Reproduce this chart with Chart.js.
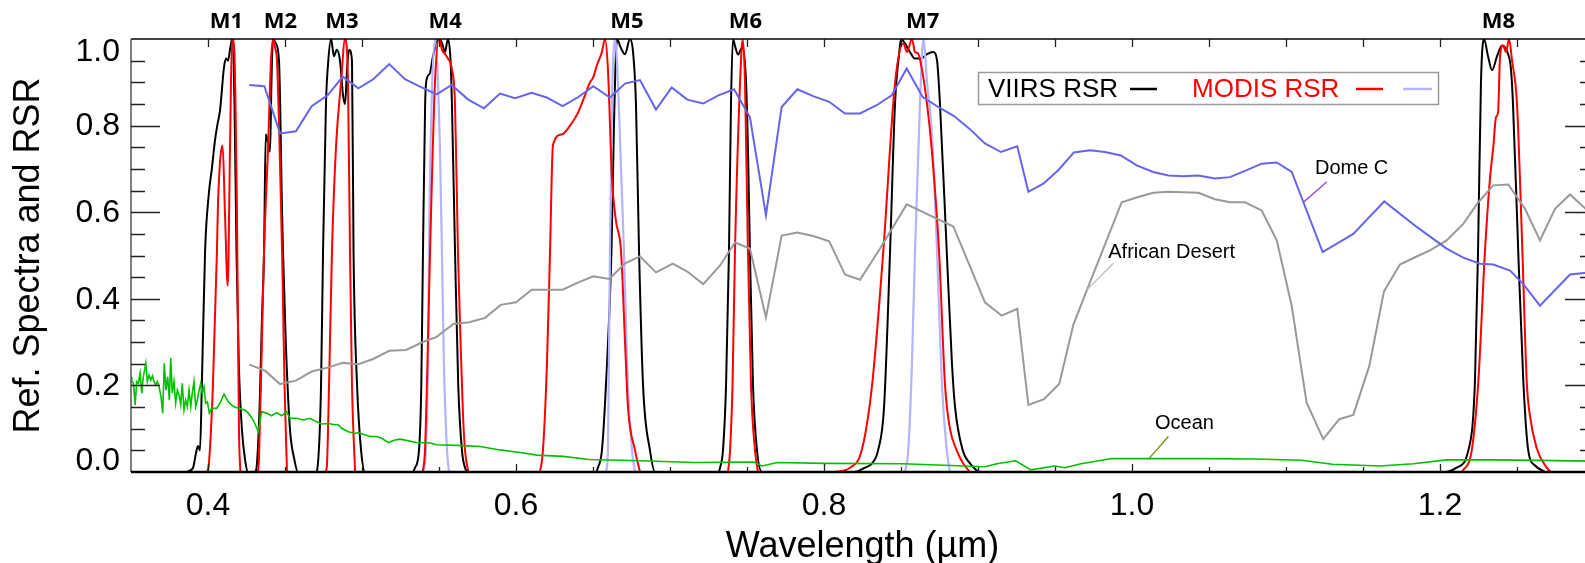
<!DOCTYPE html>
<html>
<head>
<meta charset="utf-8">
<title>Ref. Spectra and RSR</title>
<script src="https://cdn.jsdelivr.net/npm/chart.js@4.4.1/dist/chart.umd.min.js"></script>
<style>
  html, body { margin: 0; padding: 0; background: #fff; overflow: hidden; }
  #wrap { width: 1585px; height: 563px; overflow: hidden; }
  canvas { display: block; }
</style>
</head>
<body>
<div id="wrap"><canvas id="RsrChart" width="1600" height="563"></canvas></div>
<script>
(function () {
  "use strict";

  // VIIRS relative spectral response, [wavelength um, RSR]
  const viirsM1 = [[0.386,0],[0.3903,0.01],[0.392,0.04],[0.3935,0.06],[0.3948,0.05],[0.396,0.2],[0.3981,0.51],[0.4006,0.645],[0.4025,0.7],[0.4045,0.765],[0.406,0.8],[0.4078,0.835],[0.4104,0.935],[0.4117,0.955],[0.413,0.95],[0.4145,0.98],[0.4156,1.0],[0.4172,0.85],[0.4185,0.51],[0.420,0.25],[0.422,0.1],[0.424,0.03],[0.426,0]];
  const viirsM2 = [[0.4305,0],[0.4318,0.02],[0.4335,0.15],[0.435,0.35],[0.4364,0.51],[0.4375,0.78],[0.439,0.76],[0.4403,0.74],[0.4412,0.9],[0.4422,1.0],[0.444,0.99],[0.4461,0.95],[0.4481,0.6],[0.4487,0.51],[0.4505,0.3],[0.4532,0.1],[0.456,0.03],[0.4584,0]];
  const viirsM3 = [[0.470,0],[0.4714,0.02],[0.4734,0.2],[0.4747,0.51],[0.4766,0.85],[0.4779,0.94],[0.4799,1.0],[0.4818,0.96],[0.4836,0.975],[0.4857,0.95],[0.4877,0.87],[0.489,0.85],[0.4903,0.93],[0.4916,0.975],[0.4935,0.95],[0.4945,0.51],[0.4968,0.2],[0.4994,0.05],[0.502,0]];
  const viirsM4 = [[0.533,0],[0.5344,0.01],[0.537,0.05],[0.5385,0.2],[0.5396,0.51],[0.541,0.85],[0.5422,0.91],[0.544,0.92],[0.5461,0.96],[0.55,1.0],[0.552,0.99],[0.5539,0.97],[0.5558,1.0],[0.5575,0.95],[0.5584,0.85],[0.5604,0.51],[0.5625,0.2],[0.5649,0.05],[0.5669,0.01],[0.569,0]];
  const viirsM5 = [[0.652,0],[0.6532,0.01],[0.6558,0.05],[0.6584,0.2],[0.662,0.51],[0.6636,0.8],[0.6656,1.0],[0.668,0.98],[0.6708,0.965],[0.674,1.0],[0.676,0.97],[0.6779,0.85],[0.6799,0.51],[0.6825,0.2],[0.687,0.05],[0.6903,0]];
  const viirsM6 = [[0.7315,0],[0.7325,0.01],[0.7344,0.05],[0.7364,0.2],[0.7383,0.51],[0.7396,0.85],[0.7409,1.0],[0.7425,0.98],[0.7442,0.964],[0.7468,0.98],[0.7494,0.9],[0.7506,0.75],[0.7519,0.51],[0.7539,0.2],[0.7565,0.05],[0.7597,0]];
  const viirsM7 = [[0.8195,0],[0.8266,0.01],[0.8312,0.02],[0.8351,0.05],[0.839,0.15],[0.8429,0.51],[0.8461,0.85],[0.8489,0.97],[0.85,1.0],[0.8525,0.99],[0.8558,0.97],[0.859,0.955],[0.863,0.955],[0.8669,0.965],[0.8708,0.97],[0.8734,0.95],[0.8753,0.85],[0.8797,0.51],[0.8831,0.25],[0.8851,0.15],[0.8901,0.05],[0.8948,0.02],[0.9019,0]];
  const viirsM8 = [[1.2032,0],[1.2108,0.01],[1.2184,0.05],[1.2227,0.21],[1.2247,0.51],[1.2266,0.9],[1.2286,1.0],[1.2312,0.96],[1.2338,0.928],[1.237,0.96],[1.2403,0.985],[1.2442,0.965],[1.2461,0.93],[1.2474,0.85],[1.2508,0.51],[1.2541,0.21],[1.2573,0.05],[1.2617,0.015],[1.2682,0]];

  // MODIS RSR (red)
  const modisB1 = [[0.3995,0],[0.4006,0.02],[0.4032,0.2],[0.4058,0.51],[0.4065,0.62],[0.4095,0.754],[0.411,0.6],[0.4128,0.43],[0.4143,0.75],[0.4156,1.0],[0.417,0.98],[0.4188,0.6],[0.4201,0.1],[0.421,0]];
  const modisB2 = [[0.4325,0],[0.4331,0.03],[0.435,0.3],[0.4364,0.51],[0.439,0.75],[0.4409,0.95],[0.4422,1.0],[0.4435,0.98],[0.4448,0.95],[0.4465,0.75],[0.4481,0.51],[0.4497,0.2],[0.4513,0]];
  const modisB3 = [[0.4765,0],[0.4773,0.02],[0.4786,0.2],[0.4805,0.51],[0.4831,0.75],[0.4864,0.9],[0.489,1.0],[0.4909,0.9],[0.4922,0.51],[0.4935,0.2],[0.4955,0]];
  const modisB4 = [[0.5395,0],[0.5409,0.05],[0.5425,0.25],[0.5442,0.51],[0.5474,0.9],[0.55,1.0],[0.552,0.975],[0.5539,0.965],[0.5558,0.955],[0.5584,0.93],[0.5604,0.85],[0.5623,0.51],[0.564,0.3],[0.5656,0.13],[0.5669,0.05],[0.569,0]];
  const modisB5 = [[0.6156,0],[0.6175,0.05],[0.6201,0.25],[0.6221,0.51],[0.624,0.755],[0.6299,0.78],[0.6351,0.8],[0.6403,0.83],[0.6448,0.87],[0.6481,0.9],[0.65,0.91],[0.6526,0.94],[0.6558,0.97],[0.6578,1.0],[0.6597,0.93],[0.6623,0.68],[0.6649,0.58],[0.6682,0.51],[0.6708,0.3],[0.6727,0.15],[0.6773,0.05],[0.6805,0]];
  const modisB6 = [[0.7377,0],[0.739,0.05],[0.7406,0.2],[0.7422,0.51],[0.7455,0.9],[0.7472,1.0],[0.7487,0.9],[0.7506,0.51],[0.7526,0.2],[0.7552,0.05],[0.7571,0]];
  const modisB7 = [[0.8071,0],[0.8169,0.01],[0.8245,0.05],[0.8312,0.2],[0.8385,0.51],[0.8461,0.897],[0.8515,0.99],[0.8539,0.97],[0.8571,1.0],[0.8591,0.97],[0.861,0.967],[0.8636,0.93],[0.8669,0.85],[0.8701,0.74],[0.8747,0.51],[0.8786,0.2],[0.8818,0.1],[0.8862,0.05],[0.8903,0.02],[0.8948,0]];
  const modisB8 = [[1.2143,0],[1.2206,0.05],[1.2249,0.21],[1.2292,0.51],[1.2325,0.68],[1.2346,0.75],[1.2364,0.82],[1.2377,0.83],[1.239,0.96],[1.2409,0.985],[1.2429,0.97],[1.2448,1.0],[1.2468,0.95],[1.25,0.85],[1.2535,0.51],[1.2563,0.21],[1.2584,0.13],[1.2628,0.055],[1.2693,0.01],[1.272,0]];

  // MODIS narrow bands (light blue)
  const modisN4 = [[0.540,0],[0.5415,0.05],[0.5429,0.25],[0.5435,0.51],[0.5452,0.85],[0.5474,1.0],[0.5494,0.9],[0.5506,0.75],[0.5519,0.51],[0.5532,0.25],[0.5552,0.05],[0.5565,0]];
  const modisN5 = [[0.6584,0],[0.6597,0.05],[0.661,0.51],[0.6623,0.85],[0.6643,1.0],[0.6662,0.9],[0.6682,0.7],[0.6701,0.51],[0.6727,0.2],[0.6753,0.05],[0.6773,0]];
  const modisN7 = [[0.8526,0],[0.8547,0.05],[0.8571,0.25],[0.8591,0.51],[0.8623,0.85],[0.8645,1.0],[0.8669,0.9],[0.8701,0.78],[0.8734,0.51],[0.8766,0.2],[0.8797,0.05],[0.8818,0]];

  // reference spectra
  const domeC = [[0.4268,0.894],[0.4366,0.891],[0.4468,0.782],[0.4571,0.787],[0.4673,0.845],[0.4777,0.870],[0.4875,0.913],[0.4976,0.886],[0.5073,0.907],[0.5177,0.942],[0.5279,0.907],[0.5377,0.890],[0.5485,0.872],[0.5582,0.894],[0.5690,0.860],[0.5792,0.840],[0.5896,0.874],[0.5994,0.863],[0.6102,0.876],[0.6199,0.865],[0.6303,0.845],[0.6405,0.866],[0.6502,0.891],[0.6610,0.865],[0.6708,0.897],[0.6805,0.905],[0.6909,0.837],[0.7011,0.888],[0.7112,0.860],[0.7216,0.851],[0.7314,0.870],[0.7416,0.884],[0.7519,0.819],[0.7623,0.593],[0.7725,0.843],[0.7827,0.884],[0.7930,0.868],[0.8034,0.855],[0.8136,0.828],[0.8234,0.828],[0.8342,0.847],[0.8440,0.870],[0.8537,0.932],[0.8641,0.866],[0.8742,0.843],[0.8844,0.822],[0.8944,0.793],[0.9045,0.759],[0.9149,0.739],[0.9255,0.752],[0.9327,0.647],[0.9424,0.666],[0.9521,0.697],[0.9623,0.738],[0.9727,0.743],[0.9825,0.739],[0.9927,0.731],[1.0031,0.708],[1.0138,0.693],[1.0236,0.685],[1.0333,0.683],[1.0431,0.685],[1.0539,0.678],[1.0636,0.681],[1.0745,0.697],[1.0842,0.712],[1.0940,0.715],[1.1037,0.693],[1.1238,0.508],[1.1437,0.550],[1.1638,0.625],[1.1849,0.566],[1.2043,0.516],[1.2151,0.495],[1.2260,0.481],[1.2346,0.479],[1.2455,0.465],[1.2541,0.434],[1.2649,0.384],[1.2844,0.456],[1.3000,0.462]];
  const africanDesert = [[0.4268,0.248],[0.4370,0.234],[0.4468,0.203],[0.4571,0.211],[0.4673,0.232],[0.4777,0.241],[0.4875,0.252],[0.4976,0.249],[0.5073,0.261],[0.5177,0.280],[0.5286,0.282],[0.5388,0.299],[0.5485,0.312],[0.5593,0.342],[0.5697,0.346],[0.5799,0.356],[0.5901,0.386],[0.6000,0.392],[0.6102,0.421],[0.6199,0.421],[0.6303,0.421],[0.6405,0.438],[0.6502,0.452],[0.6606,0.446],[0.6708,0.482],[0.6805,0.498],[0.6909,0.461],[0.7018,0.481],[0.7112,0.463],[0.7216,0.434],[0.7325,0.477],[0.7422,0.530],[0.7519,0.516],[0.7623,0.357],[0.7725,0.546],[0.7827,0.553],[0.7930,0.545],[0.8034,0.533],[0.8136,0.456],[0.8234,0.444],[0.8364,0.516],[0.8537,0.618],[0.8840,0.567],[0.9045,0.392],[0.9154,0.361],[0.9255,0.377],[0.9327,0.155],[0.9429,0.168],[0.9528,0.204],[0.9619,0.340],[0.9710,0.423],[0.9792,0.496],[0.9933,0.623],[1.0040,0.635],[1.0138,0.645],[1.0236,0.647],[1.0431,0.645],[1.0539,0.630],[1.0636,0.623],[1.0734,0.623],[1.0842,0.604],[1.0940,0.535],[1.1037,0.384],[1.1134,0.160],[1.1242,0.076],[1.1346,0.122],[1.1437,0.132],[1.1541,0.245],[1.1636,0.417],[1.1740,0.479],[1.1838,0.496],[1.1935,0.512],[1.2043,0.535],[1.2151,0.573],[1.2249,0.623],[1.2346,0.662],[1.2443,0.664],[1.2552,0.608],[1.2649,0.535],[1.2747,0.608],[1.2844,0.641],[1.3000,0.590]];
  const ocean = [[0.3500,0.220],[0.3505,0.209],[0.3516,0.205],[0.3527,0.155],[0.3537,0.209],[0.3548,0.205],[0.3559,0.228],[0.3570,0.182],[0.3580,0.220],[0.3596,0.251],[0.3606,0.209],[0.3617,0.224],[0.3628,0.212],[0.3639,0.222],[0.3649,0.209],[0.3660,0.201],[0.3671,0.209],[0.3682,0.197],[0.3695,0.174],[0.3706,0.136],[0.3716,0.251],[0.3727,0.189],[0.3738,0.220],[0.3749,0.166],[0.3758,0.263],[0.3768,0.182],[0.3779,0.209],[0.3790,0.159],[0.3801,0.189],[0.3812,0.178],[0.3823,0.155],[0.3833,0.205],[0.3844,0.143],[0.3855,0.166],[0.3866,0.151],[0.3877,0.189],[0.3888,0.151],[0.3898,0.182],[0.3909,0.209],[0.3920,0.151],[0.3931,0.166],[0.3942,0.189],[0.3953,0.205],[0.3963,0.182],[0.3974,0.197],[0.3985,0.159],[0.3996,0.162],[0.4009,0.136],[0.4024,0.147],[0.4056,0.147],[0.4078,0.159],[0.4104,0.180],[0.4132,0.162],[0.4165,0.151],[0.4197,0.147],[0.4240,0.143],[0.4262,0.136],[0.4294,0.120],[0.4327,0.093],[0.4348,0.139],[0.4381,0.136],[0.4413,0.130],[0.4446,0.137],[0.4478,0.130],[0.4511,0.139],[0.4532,0.124],[0.4575,0.124],[0.4619,0.120],[0.4662,0.124],[0.4695,0.118],[0.4738,0.111],[0.4781,0.112],[0.4825,0.109],[0.4846,0.109],[0.4868,0.101],[0.4911,0.093],[0.4954,0.089],[0.4976,0.091],[0.5009,0.087],[0.5052,0.082],[0.5095,0.082],[0.5128,0.078],[0.5171,0.068],[0.5214,0.074],[0.5247,0.076],[0.5355,0.068],[0.5442,0.067],[0.5485,0.063],[0.5658,0.061],[0.5766,0.059],[0.5896,0.051],[0.6026,0.045],[0.6136,0.039],[0.6305,0.036],[0.6474,0.029],[0.6815,0.026],[0.7155,0.022],[0.7545,0.023],[0.7597,0.014],[0.7698,0.022],[0.8004,0.020],[0.8513,0.019],[0.9045,0.012],[0.9123,0.019],[0.9244,0.026],[0.9344,0.005],[0.9498,0.014],[0.9565,0.010],[0.9669,0.019],[0.9870,0.031],[1.0442,0.031],[1.0800,0.030],[1.1100,0.027],[1.1300,0.018],[1.1610,0.014],[1.1827,0.019],[1.2043,0.028],[1.2368,0.028],[1.3000,0.025]];

  // band names and centres (um) shown above the frame
  const bandNames = ['M1','M2','M3','M4','M5','M6','M7','M8'];
  const bandCenters = [0.412, 0.447, 0.487, 0.554, 0.672, 0.749, 0.864, 1.238];

  // axis tick labels
  const xTickValues = [0.4, 0.6, 0.8, 1.0, 1.2];
  const xTickLabels = ['0.4', '0.6', '0.8', '1.0', '1.2'];
  const yTickValues = [0, 0.2, 0.4, 0.6, 0.8, 1.0];
  const yTickLabels = ['0.0', '0.2', '0.4', '0.6', '0.8', '1.0'];

  // curve labels: [text, label x, label y, leader from x, y, leader to x, y, leader colour]
  const curveNotes = [
    ['Dome C', 1.1188, 0.701, 1.1265, 0.670, 1.1117, 0.624, '#8a2be2'],
    ['African Desert', 0.9846, 0.508, 0.9879, 0.482, 0.9706, 0.420, '#bbbbbb'],
    ['Ocean', 1.0149, 0.113, 1.0236, 0.082, 1.0110, 0.031, '#808000']
  ];

  const FONT = "'Liberation Sans', Arial, sans-serif";

  function pts(a) { return a.map(function (p) { return { x: p[0], y: p[1] }; }); }
  function joined(bands, gaps) {
    let out = [];
    bands.forEach(function (b, i) {
      if (i > 0 && gaps) out.push({ x: (bands[i - 1][bands[i - 1].length - 1][0] + b[0][0]) / 2, y: null });
      out = out.concat(pts(b));
    });
    return out;
  }

  const viirsData = joined([viirsM1, viirsM2, viirsM3, viirsM4, viirsM5, viirsM6, viirsM7, viirsM8], false);
  const modisData = joined([modisB1, modisB2, modisB3, modisB4, modisB5, modisB6, modisB7, modisB8], true);
  const modisNarrow = joined([modisN4, modisN5, modisN7], true);

  const decor = {
    id: 'decor',
    afterDatasetsDraw(chart) {
      const ctx = chart.ctx, a = chart.chartArea;
      const xs = chart.scales.x, ys = chart.scales.y;
      ctx.save();

      // frame
      ctx.lineCap = 'butt';
      ctx.strokeStyle = '#000';
      ctx.lineWidth = 1.5;
      ctx.beginPath();
      ctx.moveTo(a.left, a.top); ctx.lineTo(a.right, a.top);
      ctx.stroke();
      ctx.strokeStyle = '#555';
      ctx.beginPath();
      ctx.moveTo(a.left, a.top); ctx.lineTo(a.left, a.bottom);
      ctx.moveTo(a.right, a.top); ctx.lineTo(a.right, a.bottom);
      ctx.stroke();
      ctx.strokeStyle = '#000';
      ctx.lineWidth = 2.5;
      ctx.beginPath();
      ctx.moveTo(a.left, a.bottom); ctx.lineTo(a.right, a.bottom);
      ctx.stroke();

      // y ticks, every 0.05
      ctx.lineWidth = 1.3;
      ctx.strokeStyle = '#222';
      ctx.beginPath();
      for (let i = 1; i < 20; i++) {
        const py = Math.round(ys.getPixelForValue(i * 0.05)) + 0.5;
        const len = i % 4 === 0 ? 29 : 14;
        ctx.moveTo(a.left, py); ctx.lineTo(a.left + len, py);
        ctx.moveTo(a.right, py); ctx.lineTo(a.right - len, py);
      }
      // x ticks, every 0.05
      for (let i = 1; i < 19; i++) {
        const v = 0.35 + i * 0.05;
        const px = Math.round(xs.getPixelForValue(v)) + 0.5;
        const major = Math.round(v * 100) % 20 === 0;
        ctx.moveTo(px, a.bottom); ctx.lineTo(px, a.bottom - (major ? 8 : 5));
        ctx.moveTo(px, a.top); ctx.lineTo(px, a.top + 8);
      }
      ctx.stroke();

      // tick labels
      ctx.fillStyle = '#000';
      ctx.font = '32px ' + FONT;
      ctx.textAlign = 'right';
      ctx.textBaseline = 'middle';
      yTickValues.forEach(function (v, i) {
        let py = ys.getPixelForValue(v);
        py = Math.min(Math.max(py, a.top + 12), a.bottom - 12);
        ctx.fillText(yTickLabels[i], a.left - 11, py + 1);
      });
      ctx.textAlign = 'center';
      xTickValues.forEach(function (v, i) {
        ctx.fillText(xTickLabels[i], xs.getPixelForValue(v), a.bottom + 34);
      });

      // axis titles
      ctx.font = '36px ' + FONT;
      ctx.fillText('Wavelength (\u00b5m)', (a.left + a.right) / 2, a.bottom + 75);
      ctx.save();
      ctx.translate(29, (a.top + a.bottom) / 2);
      ctx.rotate(-Math.PI / 2);
      ctx.fillText('Ref. Spectra and RSR', 0, 0);
      ctx.restore();

      // band names
      ctx.font = "bold 22px 'Open Sans', " + FONT;
      bandNames.forEach(function (n, i) {
        ctx.fillText(n, xs.getPixelForValue(bandCenters[i]), 22);
      });

      // curve notes
      ctx.font = '20px ' + FONT;
      ctx.textAlign = 'left';
      curveNotes.forEach(function (c) {
        ctx.fillStyle = '#000';
        ctx.fillText(c[0], xs.getPixelForValue(c[1]), ys.getPixelForValue(c[2]));
        ctx.strokeStyle = c[7];
        ctx.lineWidth = 1.2;
        ctx.beginPath();
        ctx.moveTo(xs.getPixelForValue(c[3]), ys.getPixelForValue(c[4]));
        ctx.lineTo(xs.getPixelForValue(c[5]), ys.getPixelForValue(c[6]));
        ctx.stroke();
      });

      // legend
      ctx.strokeStyle = '#9a9a9a';
      ctx.lineWidth = 1.5;
      ctx.strokeRect(978.5, 72.5, 460, 32);
      ctx.font = '26px ' + FONT;
      ctx.textBaseline = 'middle';
      ctx.fillStyle = '#000';
      ctx.fillText('VIIRS RSR', 988, 90);
      ctx.fillStyle = '#ff0000';
      ctx.fillText('MODIS RSR', 1192, 90);
      ctx.lineWidth = 2.5;
      [['#000', 1130, 1157], ['#ff0000', 1356, 1383], ['#b4b4ff', 1403, 1432]].forEach(function (s) {
        ctx.strokeStyle = s[0];
        ctx.beginPath();
        ctx.moveTo(s[1], 89); ctx.lineTo(s[2], 89);
        ctx.stroke();
      });

      ctx.restore();
    }
  };

  const lineBase = { showLine: true, pointRadius: 0, pointHoverRadius: 0, fill: false };

  new Chart(document.getElementById('RsrChart').getContext('2d'), {
    type: 'scatter',
    data: {
      datasets: [
        Object.assign({ label: 'Ocean', data: pts(ocean), borderColor: '#00c000', borderWidth: 1.6, order: 1 }, lineBase),
        Object.assign({ label: 'Dome C', data: pts(domeC), borderColor: '#6464f0', borderWidth: 2, order: 2 }, lineBase),
        Object.assign({ label: 'African Desert', data: pts(africanDesert), borderColor: '#999999', borderWidth: 2, order: 3 }, lineBase),
        Object.assign({ label: 'MODIS RSR', data: modisData, borderColor: '#ff0000', borderWidth: 2, cubicInterpolationMode: 'monotone', order: 4 }, lineBase),
        Object.assign({ label: 'MODIS RSR narrow', data: modisNarrow, borderColor: '#b4b4ff', borderWidth: 2.2, cubicInterpolationMode: 'monotone', order: 5 }, lineBase),
        Object.assign({ label: 'VIIRS RSR', data: viirsData, borderColor: '#000000', borderWidth: 2, cubicInterpolationMode: 'monotone', order: 6 }, lineBase)
      ]
    },
    options: {
      responsive: false,
      animation: false,
      devicePixelRatio: 1,
      layout: { padding: { left: 131, top: 39, right: 6, bottom: 91 } },
      scales: {
        x: { type: 'linear', min: 0.35, max: 1.3, display: false },
        y: { type: 'linear', min: 0, max: 1.0, display: false }
      },
      plugins: {
        legend: { display: false },
        tooltip: { enabled: false }
      }
    },
    plugins: [decor]
  });
})();
</script>
</body>
</html>
